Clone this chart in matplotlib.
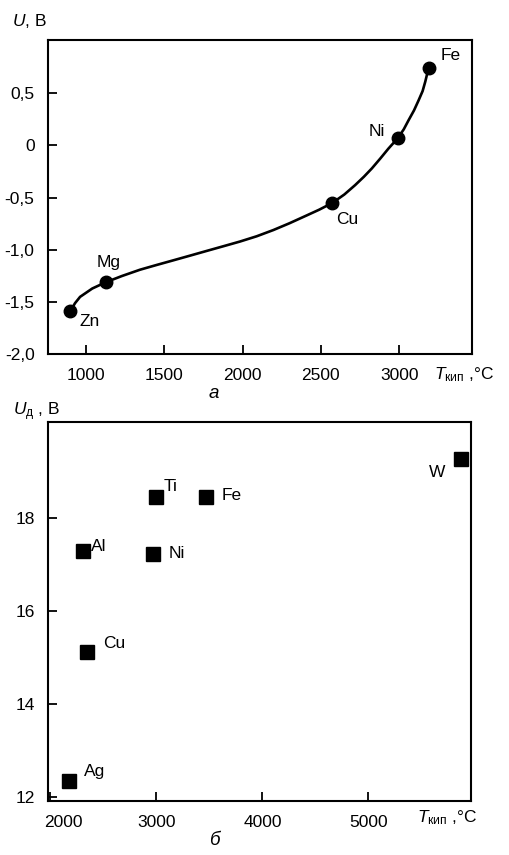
import matplotlib
matplotlib.use("Agg")
import matplotlib.pyplot as plt
import matplotlib.transforms as mtransforms

plt.rcParams['font.family'] = ['Liberation Sans', 'DejaVu Sans']
plt.rcParams['mathtext.fontset'] = 'custom'
plt.rcParams['mathtext.rm'] = 'Liberation Sans'
plt.rcParams['mathtext.it'] = 'Liberation Sans:italic'
plt.rcParams['mathtext.bf'] = 'Liberation Sans:bold'

# --- panel a: electrode potential vs boiling point ---
metals_a = ["Zn", "Mg", "Cu", "Ni", "Fe"]
t_a = [898, 1126, 2574, 2992, 3188]
u_a = [-1.59, -1.31, -0.55, 0.07, 0.74]

# trend line
curve_t = [898, 930, 962, 1040, 1126, 1230, 1345, 1450, 1558, 1665, 1771,
           1878, 1984, 2090, 2197, 2300, 2410, 2490, 2574, 2650, 2719, 2775,
           2826, 2880, 2932, 2992, 3030, 3060, 3095, 3124, 3150, 3167, 3188]
curve_u = [-1.59, -1.51, -1.45, -1.37, -1.31, -1.25, -1.19, -1.145, -1.10, -1.055, -1.01,
           -0.965, -0.92, -0.87, -0.81, -0.745, -0.67, -0.615, -0.55, -0.47, -0.38, -0.30,
           -0.22, -0.125, -0.03, 0.07, 0.155, 0.24, 0.335, 0.43, 0.52, 0.61, 0.74]

# offsets of the labels (points)
off_a = [(7, -7), (2, 14), (3, -12), (-9, 5), (9, 9)]
ha_a = ["left", "center", "left", "right", "left"]

# --- panel b: arc voltage vs boiling point ---
metals_b = ["Ti", "Fe", "Al", "Ni", "Cu", "Ag", "W"]
t_b = [2993, 3469, 2305, 2972, 2350, 2173, 5872]
u_b = [18.46, 18.46, 17.3, 17.22, 15.12, 12.34, 19.28]
off_b = [(6, 7), (11, 1), (6, 3), (11, 1), (11, 6), (11, 7), (-11, -10)]
ha_b = ["left", "left", "left", "left", "left", "left", "right"]

fs = 12.5
fig = plt.figure(figsize=(5.10, 8.55), dpi=100)

ax1 = fig.add_axes([0.095, 0.5856, 0.830, 0.3677])
ax1.plot(curve_t, curve_u, color="black", lw=1.9, solid_capstyle="round")
ax1.plot(t_a, u_a, "o", color="black", ms=9)
for name, x, y, off, ha in zip(metals_a, t_a, u_a, off_a, ha_a):
    ax1.annotate(name, (x, y), xytext=off, textcoords="offset points",
                 ha=ha, va="center", fontsize=fs)
ax1.set_xlim(760, 3464)
ax1.set_ylim(-2.0, 1.01)
ax1.set_xticks([1000, 1500, 2000, 2500, 3000])
ax1.set_yticks([-2.0, -1.5, -1.0, -0.5, 0, 0.5])
ax1.set_yticklabels(["-2,0", "-1,5", "-1,0", "-0,5", "0", "0,5"])

ax2 = fig.add_axes([0.095, 0.0632, 0.829, 0.4429])
ax2.plot(t_b, u_b, "s", color="black", ms=10)
for name, x, y, off, ha in zip(metals_b, t_b, u_b, off_b, ha_b):
    ax2.annotate(name, (x, y), xytext=off, textcoords="offset points",
                 ha=ha, va="center", fontsize=fs)
ax2.set_xlim(1983, 5969)
ax2.set_ylim(11.92, 20.06)
ax2.set_xticks([2000, 3000, 4000, 5000])
ax2.set_yticks([12, 14, 16, 18])

for ax in (ax1, ax2):
    for sp in ax.spines.values():
        sp.set_linewidth(1.5)
    ax.tick_params(direction="in", length=6.5, width=1.3, labelsize=fs,
                   pad=10, top=False, right=False)

# shift the first label of panel b off the corner
lbl = ax2.get_xticklabels()[0]
lbl.set_transform(lbl.get_transform() + mtransforms.ScaledTranslation(13 / 100, 0, fig.dpi_scale_trans))

fig.text(0.023, 0.975, "$U$, В", fontsize=fs, va="center", ha="left")
fig.text(0.025, 0.519, r"$U_{\mathrm{д}}$ , В", fontsize=fs, va="center", ha="left")
fig.text(0.851, 0.5614, r"$T_{\mathrm{кип}}$ ,°C", fontsize=fs, va="center", ha="left")
fig.text(0.818, 0.0433, r"$T_{\mathrm{кип}}$ ,°C", fontsize=fs, va="center", ha="left")
fig.text(0.42, 0.560 - 0.02, "а", fontsize=fs + 1, style="italic", ha="center", va="center")
fig.text(0.42, 0.017, "б", fontsize=fs + 1, style="italic", ha="center", va="center")

fig.savefig("out.png", dpi=100)
